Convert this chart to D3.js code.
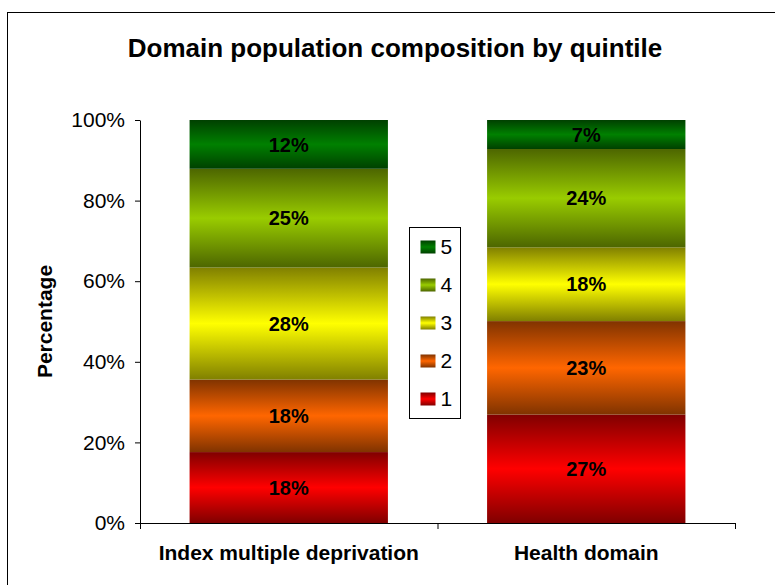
<!DOCTYPE html>
<html>
<head>
<meta charset="utf-8">
<script src="https://cdn.jsdelivr.net/npm/d3@7"></script>
<style>
  body { margin: 0; background: #fff; }
  text { font-family: "Liberation Sans", Arial, sans-serif; }
</style>
</head>
<body>
<div id="chart"></div>
<script>
// data
var categories = ["Index multiple deprivation", "Health domain"];
var quintiles  = ["1", "2", "3", "4", "5"];
var q1 = [17.6, 26.9];
var q2 = [18.0, 23.2];
var q3 = [27.8, 18.3];
var q4 = [24.5, 24.4];
var q5 = [12.1, 7.2];
var yTicks = [0, 20, 40, 60, 80, 100];

var brightCols = ["#ff0000", "#ff6600", "#ffff00", "#99cc00", "#008000"];
var darkCols   = ["#800000", "#803300", "#808000", "#4d6600", "#004000"];

var W = 775, H = 585;
var margin = {top: 120, right: 40, bottom: 62, left: 140};
var plotW = 735 - margin.left;
var plotH = 523 - margin.top;

var svg = d3.select("#chart").append("svg")
    .attr("width", W)
    .attr("height", H);

// gradients: dark at edges, bright in the middle of every segment
var defs = svg.append("defs");
quintiles.forEach(function(q, i){
	var g = defs.append("linearGradient")
		.attr("id", "grad" + q)
		.attr("x1", 0).attr("y1", 0).attr("x2", 0).attr("y2", 1);
	g.append("stop").attr("offset", "0%").attr("stop-color", darkCols[i]);
	g.append("stop").attr("offset", "50%").attr("stop-color", brightCols[i]);
	g.append("stop").attr("offset", "100%").attr("stop-color", darkCols[i]);
});

// chart area border
svg.append("rect")
    .attr("x", 7.5).attr("y", 12.5)
    .attr("width", 800).attr("height", 600)
    .attr("fill", "none")
    .attr("stroke", "#000")
    .attr("stroke-width", 1);

svg.append("text")
    .attr("x", 395).attr("y", 57)
    .attr("text-anchor", "middle")
    .style("font-size", "26px")
    .style("font-weight", "bold")
    .text("Domain population composition by quintile");

var canvas = svg.append("g")
    .attr("transform", "translate(" + margin.left + "," + margin.top + ")");

var xScale = d3.scaleBand().domain(categories).range([0, plotW])
    .paddingInner(1/3).paddingOuter(1/6);
var yScale = d3.scaleLinear().domain([0, 100]).range([plotH, 0]);

var rows = categories.map(function(c, i){
	return {cat: c, "1": q1[i], "2": q2[i], "3": q3[i], "4": q4[i], "5": q5[i]};
});
var stacked = d3.stack().keys(quintiles)(rows);

var layers = canvas.selectAll(".layer")
    .data(stacked)
    .enter().append("g")
    .attr("class", "layer")
    .attr("fill", function(d){ return "url(#grad" + d.key + ")"; });

layers.selectAll("rect")
    .data(function(d){ return d; })
    .enter().append("rect")
    .attr("x", function(d){ return xScale(d.data.cat); })
    .attr("y", function(d){ return yScale(d[1]); })
    .attr("width", xScale.bandwidth())
    .attr("height", function(d){ return yScale(d[0]) - yScale(d[1]); });

layers.selectAll("text")
    .data(function(d){ return d; })
    .enter().append("text")
    .attr("x", function(d){ return xScale(d.data.cat) + xScale.bandwidth() / 2; })
    .attr("y", function(d){ return (yScale(d[0]) + yScale(d[1])) / 2; })
    .attr("dy", "0.36em")
    .attr("text-anchor", "middle")
    .attr("fill", "#000")
    .style("font-size", "20px")
    .style("font-weight", "bold")
    .text(function(d){ return Math.round(d[1] - d[0]) + "%"; });

// y axis
var yAxis = d3.axisLeft(yScale)
    .tickValues(yTicks)
    .tickFormat(function(d){ return d + "%"; })
    .tickSize(5).tickSizeOuter(0).tickPadding(10);
var yAxisGroup = canvas.append("g").call(yAxis);
yAxisGroup.selectAll("text").style("font-size", "21px").attr("fill", "#000");
yAxisGroup.select(".domain").attr("stroke", "#000");

// x axis: ticks between the categories, like the original
var sepScale = d3.scaleLinear().domain([0, categories.length]).range([0, plotW]);
var xAxisGroup = canvas.append("g")
    .attr("transform", "translate(0," + plotH + ")")
    .call(d3.axisBottom(sepScale).ticks(categories.length).tickFormat("").tickSize(6).tickSizeOuter(0));
xAxisGroup.select(".domain").attr("stroke", "#000");

canvas.append("g")
    .attr("transform", "translate(0," + plotH + ")")
    .call(d3.axisBottom(xScale).tickSize(0).tickPadding(22))
    .call(function(g){ g.select(".domain").remove(); })
    .selectAll("text")
    .attr("fill", "#000")
    .style("font-size", "21px")
    .style("font-weight", "bold");

svg.append("text")
    .attr("transform", "translate(52," + (margin.top + plotH / 2) + ") rotate(-90)")
    .attr("text-anchor", "middle")
    .style("font-size", "21px")
    .style("font-weight", "bold")
    .text("Percentage");

// legend, top entry is quintile 5
var legend = svg.append("g").attr("transform", "translate(409.5,227.5)");
legend.append("rect")
    .attr("width", 51).attr("height", 191)
    .attr("fill", "#fff").attr("stroke", "#000");
var items = legend.selectAll(".item")
    .data(quintiles.slice().reverse())
    .enter().append("g")
    .attr("class", "item")
    .attr("transform", function(d, i){ return "translate(0," + (19 + i * 38) + ")"; });
items.append("rect")
    .attr("x", 11).attr("y", -6)
    .attr("width", 15).attr("height", 13)
    .attr("fill", function(d){ return "url(#grad" + d + ")"; });
items.append("text")
    .attr("x", 31)
    .attr("dy", "0.36em")
    .style("font-size", "21px")
    .text(function(d){ return d; });
</script>
</body>
</html>
